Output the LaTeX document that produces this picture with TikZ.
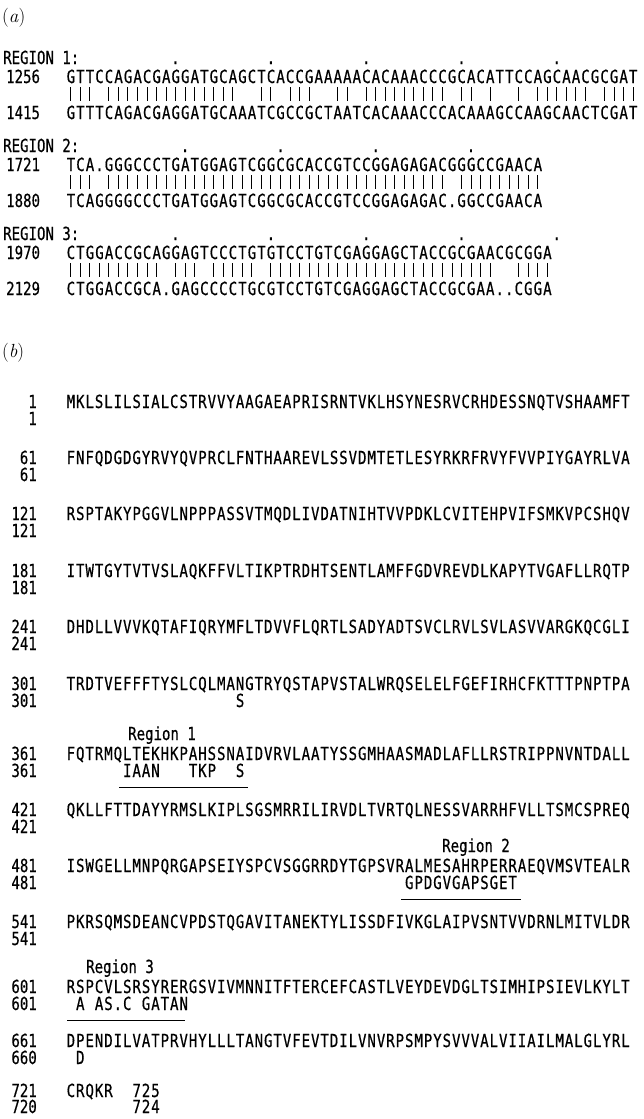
\documentclass[tikz,border=0pt]{standalone}
\usepackage{fontspec}
\usepackage{tikz}

\newfontfamily\seqfont[FakeStretch=0.78,FakeBold=0.5]{DejaVu Sans Mono}
\newcommand\seqsize{\seqfont\fontsize{18pt}{20pt}\selectfont}

% one box per residue, * is a blank column
\ExplSyntaxOn
\str_new:N \l_seq_row_str
\NewDocumentCommand \seqrow { O{9.4pt} m }
  {
    \str_set:Nx \l_seq_row_str {#2}
    \str_map_inline:Nn \l_seq_row_str
      {
        \str_if_eq:nnTF {##1} {*}
          { \makebox[#1]{} }
          { \makebox[#1]{##1} }
      }
  }
\ExplSyntaxOff

\begin{document}
\begin{tikzpicture}[x=1pt,y=-1pt,
        seq/.style={anchor=base west,inner sep=0pt,font=\seqsize},
        num/.style={anchor=base east,inner sep=0pt,font=\seqsize},
        dot/.style={anchor=base,inner sep=0pt,font=\seqsize},
        bar/.style={line width=0.9pt},
        uline/.style={line width=0.8pt}]
    \useasboundingbox (0,0) rectangle (643,1119);

    % (a) nucleotide regions
    \node[anchor=base west,inner sep=0pt,font=\fontsize{19pt}{21pt}\selectfont] (parta) at (2,22) {(\textit{a})};

    \node[seq] (reg1) at (3,64) {REGION 1:};
    \foreach \c in {12,22,...,52}
        \node[dot] (reg1d\c) at ({66+(\c-0.5)*9.53},64) {.};
    \node[seq] (n1256) at (6,83) {1256};
    \node[seq] (s1256) at (66,83) {\seqrow[9.53pt]{GTTCCAGACGAGGATGCAGCTCACCGAAAAACACAAACCCGCACATTCCAGCAACGCGAT}};
    \foreach \a/\b in {1/3,5/18,21/22,24/26,29/30,32/40,42/43,45/45,48/48,50/55,57/60}
        \foreach \c in {\a,...,\b}
            \draw[bar] ({66+(\c-0.5)*9.53},87) -- ++(0,14);
    \node[seq] (n1415) at (6,119) {1415};
    \node[seq] (s1415) at (66,119) {\seqrow[9.53pt]{GTTTCAGACGAGGATGCAAATCGCCGCTAATCACAAACCCACAAAGCCAAGCAACTCGAT}};

    \node[seq] (reg2) at (3,152) {REGION 2:};
    \foreach \c in {13,23,...,43}
        \node[dot] (reg2d\c) at ({66+(\c-0.5)*9.53},152) {.};
    \node[seq] (n1721) at (6,171) {1721};
    \node[seq] (s1721) at (66,171) {\seqrow[9.53pt]{TCA.GGGCCCTGATGGAGTCGGCGCACCGTCCGGAGAGACGGGCCGAACA}};
    \foreach \a/\b in {1/3,5/40,42/50}
        \foreach \c in {\a,...,\b}
            \draw[bar] ({66+(\c-0.5)*9.53},175) -- ++(0,14);
    \node[seq] (n1880) at (6,207) {1880};
    \node[seq] (s1880) at (66,207) {\seqrow[9.53pt]{TCAGGGGCCCTGATGGAGTCGGCGCACCGTCCGGAGAGAC.GGCCGAACA}};

    \node[seq] (reg3) at (3,240) {REGION 3:};
    \foreach \c in {12,22,...,52}
        \node[dot] (reg3d\c) at ({66+(\c-0.5)*9.53},240) {.};
    \node[seq] (n1970) at (6,259) {1970};
    \node[seq] (s1970) at (66,259) {\seqrow[9.53pt]{CTGGACCGCAGGAGTCCCTGTGTCCTGTCGAGGAGCTACCGCGAACGCGGA}};
    \foreach \a/\b in {1/10,12/14,16/20,22/45,48/51}
        \foreach \c in {\a,...,\b}
            \draw[bar] ({66+(\c-0.5)*9.53},263) -- ++(0,14);
    \node[seq] (n2129) at (6,295) {2129};
    \node[seq] (s2129) at (66,295) {\seqrow[9.53pt]{CTGGACCGCA.GAGCCCCTGCGTCCTGTCGAGGAGCTACCGCGAA..CGGA}};

    % (b) protein alignment
    \node[anchor=base west,inner sep=0pt,font=\fontsize{19pt}{21pt}\selectfont] (partb) at (2,357) {(\textit{b})};

    \foreach \n/\m/\y/\sq in {
        1/1/408/MKLSLILSIALCSTRVVYAAGAEAPRISRNTVKLHSYNESRVCRHDESSNQTVSHAAMFT,
        61/61/464/FNFQDGDGYRVYQVPRCLFNTHAAREVLSSVDMTETLESYRKRFRVYFVVPIYGAYRLVA,
        121/121/520/RSPTAKYPGGVLNPPPASSVTMQDLIVDATNIHTVVPDKLCVITEHPVIFSMKVPCSHQV,
        181/181/577/ITWTGYTVTVSLAQKFFVLTIKPTRDHTSENTLAMFFGDVREVDLKAPYTVGAFLLRQTP,
        241/241/633/DHDLLVVVKQTAFIQRYMFLTDVVFLQRTLSADYADTSVCLRVLSVLASVVARGKQCGLI,
        301/301/690/TRDTVEFFFTYSLCQLMANGTRYQSTAPVSTALWRQSELELFGEFIRHCFKTTTPNPTPA,
        361/361/760/FQTRMQLTEKHKPAHSSNAIDVRVLAATYSSGMHAASMADLAFLLRSTRIPPNVNTDALL,
        421/421/816/QKLLFTTDAYYRMSLKIPLSGSMRRILIRVDLTVRTQLNESSVARRHFVLLTSMCSPREQ,
        481/481/872/ISWGELLMNPQRGAPSEIYSPCVSGGRRDYTGPSVRALMESAHRPERRAEQVMSVTEALR,
        541/541/928/PKRSQMSDEANCVPDSTQGAVITANEKTYLISSDFIVKGLAIPVSNTVVDRNLMITVLDR,
        601/601/993/RSPCVLSRSYRERGSVIVMNNITFTERCEFCASTLVEYDEVDGLTSIMHIPSIEVLKYLT,
        661/660/1047/DPENDILVATPRVHYLLLTANGTVFEVTDILVNVRPSMPYSVVVALVIIAILMALGLYRL}
    {
        \node[num] (n\n) at (37,\y) {\n};
        \node[seq] (p\n) at (66,\y) {\seqrow{\sq}};
        \node[num] (m\n) at (37,\y+17) {\m};
    }
    \node[num] (n721) at (37,1097) {721};
    \node[seq] (p721) at (66,1097) {\seqrow{CRQKR**725}};
    \node[num] (m721) at (37,1113) {720};
    \node[seq] (q721) at ({66+7*9.4},1113) {\seqrow{724}};

    % substitutions in the second sequence
    \node[seq] (q301) at ({66+18*9.4},707) {\seqrow{S}};
    \node[seq] (q361) at ({66+6*9.4},777) {\seqrow{IAAN***TKP**S}};
    \node[seq] (q481) at ({66+36*9.4},889) {\seqrow{GPDGVGAPSGET}};
    \node[seq] (q601) at ({66+1*9.4},1010) {\seqrow{A*AS.C*GATAN}};
    \node[seq] (q661) at ({66+1*9.4},1064) {\seqrow{D}};

    \node[seq] (lab1) at (128,740) {Region 1};
    \node[seq] (lab2) at (442,852) {Region 2};
    \node[seq] (lab3) at (86,973) {Region 3};

    \draw[uline] ([xshift=-3pt,yshift=-10pt]q361.base west) -- ([xshift=3pt,yshift=-10pt]q361.base east);
    \draw[uline] ([xshift=-3pt,yshift=-10pt]q481.base west) -- ([xshift=3pt,yshift=-10pt]q481.base east);
    \draw[uline] ([xshift=-8pt,yshift=-10pt]q601.base west) -- ([xshift=-4pt,yshift=-10pt]q601.base east);
\end{tikzpicture}
\end{document}
